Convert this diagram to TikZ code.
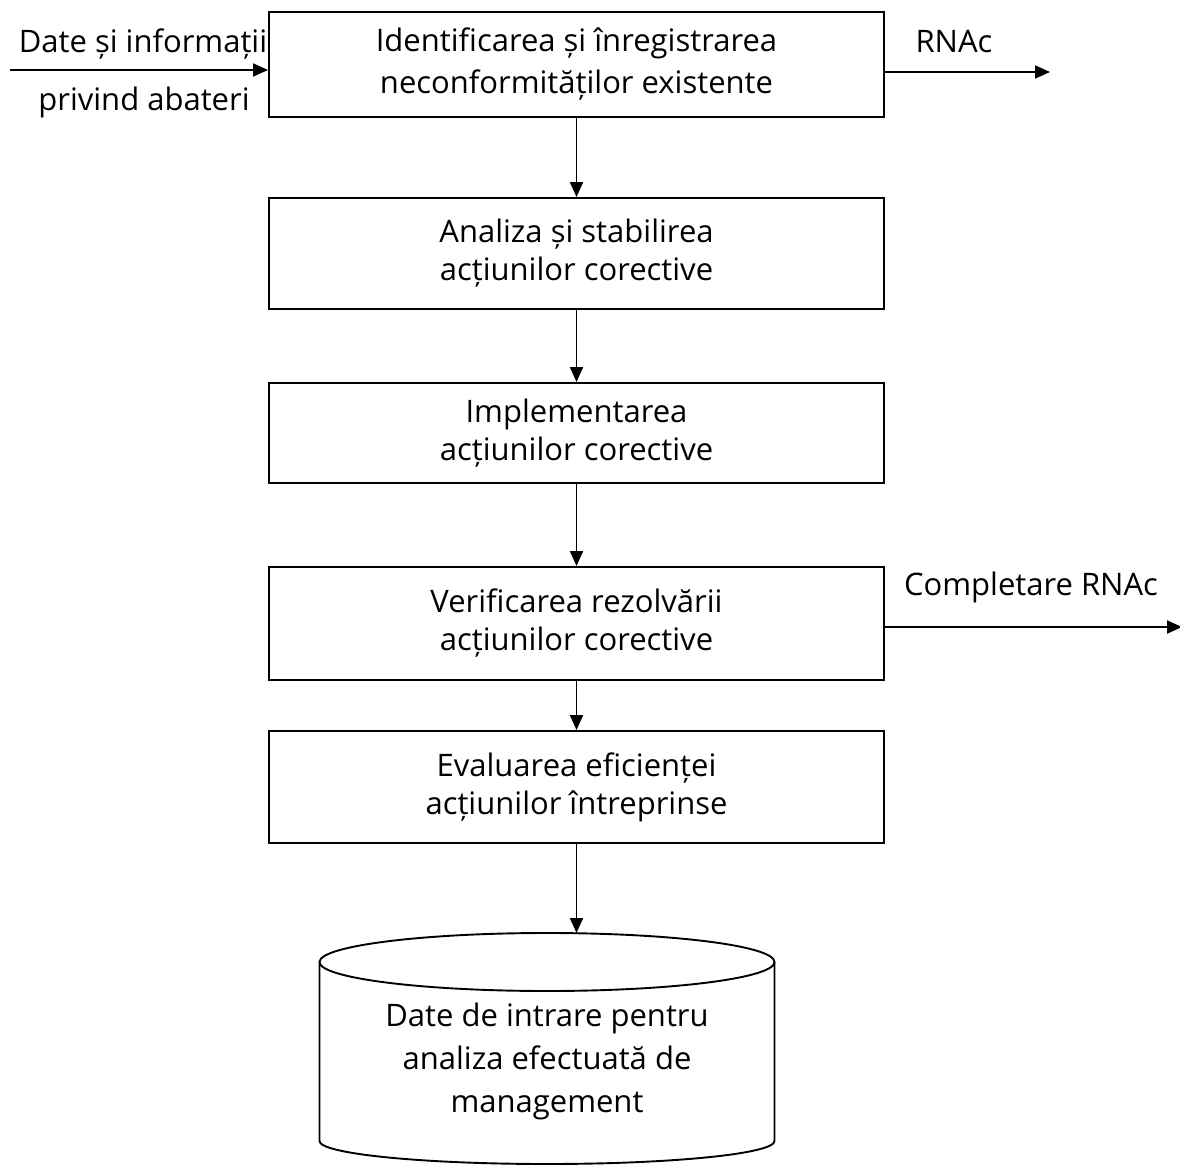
\documentclass[tikz,border=0pt]{standalone}
\usepackage{fontspec}
\setmainfont{Open Sans}
\usetikzlibrary{arrows.meta}
\begin{document}
\begin{tikzpicture}[x=1pt,y=-1pt,
  line width=1.9pt,
  every node/.style={font=\fontsize{31}{38}\selectfont, inner sep=0pt},
  stepbox/.style={draw, rectangle, align=center, minimum width=615pt},
  flow/.style={-{Triangle[length=15pt,width=13pt]}},
  lbl/.style={align=center}]
\useasboundingbox (0,0) rectangle (1180,1166);

% process steps
\node[stepbox, minimum height=105pt, font=\fontsize{31}{42}\selectfont] (b1) at (576.5,64.5)
  {Identificarea și înregistrarea\\neconformităților existente};
\node[stepbox, minimum height=111pt] (b2) at (576.5,253.5)
  {Analiza și stabilirea\\acțiunilor corective};
\node[stepbox, minimum height=100pt] (b3) at (576.5,433)
  {Implementarea\\acțiunilor corective};
\node[stepbox, minimum height=113pt] (b4) at (576.5,623.5)
  {Verificarea rezolvării\\acțiunilor corective};
\node[stepbox, minimum height=112pt] (b5) at (576.5,787)
  {Evaluarea eficienței\\acțiunilor întreprinse};

% storage cylinder
\draw (547,962) ellipse [x radius=227.5, y radius=29];
\draw (319.5,962) -- (319.5,1141)
      arc [start angle=180, end angle=0, x radius=227.5, y radius=23]
      -- (774.5,962);
\coordinate (cyltop) at (547,933);
\node[lbl, font=\fontsize{31}{43}\selectfont] (cyl) at (547,1061)
  {Date de intrare pentru\\analiza efectuată de\\management};

% vertical flow
\draw[flow] (b1.south) -- (b2.north);
\draw[flow] (b2.south) -- (b3.north);
\draw[flow] (b3.south) -- (b4.north);
\draw[flow] (b4.south) -- (b5.north);
\draw[flow] (b5.south) -- (b5.south |- cyltop);

% input and outputs
\coordinate (inleft) at (10,70);
\draw[flow] (inleft) -- (inleft -| b1.west);
\node[lbl] (in1) at (143,44) {Date și informații};
\node[lbl] (in2) at (144,102) {privind abateri};

\coordinate (out1) at (1050,72);
\draw[flow] (out1 -| b1.east) -- (out1);
\node[lbl] (rnac) at (954,42) {RNAc};

\coordinate (out2) at (1182,627);
\draw[flow] (out2 -| b4.east) -- (out2);
\node[lbl] (compl) at (1031,587) {Completare RNAc};
\end{tikzpicture}
\end{document}
